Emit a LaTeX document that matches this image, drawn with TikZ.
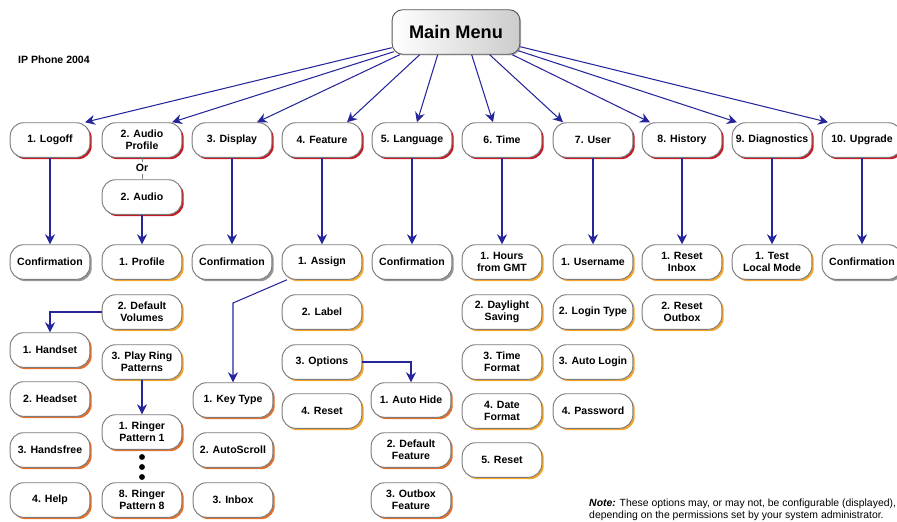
\documentclass[tikz,border=0pt]{standalone}
\usepackage{fontspec}
\setmainfont{Liberation Sans}
\usetikzlibrary{arrows.meta,shadows}

\definecolor{linkblue}{RGB}{38,38,155}
\definecolor{topshade}{RGB}{200,25,35}
\definecolor{subshade}{RGB}{245,165,40}
\definecolor{leafshade}{RGB}{230,110,45}
\definecolor{confshade}{RGB}{150,150,150}
\definecolor{boxedge}{RGB}{125,125,125}

\tikzset{
	menubox/.style={draw=boxedge, line width=0.8pt, fill=white, rounded corners=11.5pt, minimum width=68pt, minimum height=29.5pt, inner sep=1pt, align=center, font=\bfseries\fontsize{9}{10.4}\selectfont},
	topbox/.style={menubox, drop shadow={shadow xshift=1.6pt, shadow yshift=-1.6pt, opacity=1, fill=topshade}},
	subbox/.style={menubox, drop shadow={shadow xshift=1.6pt, shadow yshift=-1.6pt, opacity=1, fill=subshade}},
	leafbox/.style={menubox, drop shadow={shadow xshift=1.6pt, shadow yshift=-1.6pt, opacity=1, fill=leafshade}},
	confbox/.style={menubox, drop shadow={shadow xshift=1.6pt, shadow yshift=-1.6pt, opacity=1, fill=confshade}},
	mainbox/.style={draw=gray!70!black, line width=0.8pt, left color=white, right color=gray!40, rounded corners=9pt, minimum width=109pt, minimum height=38pt, font=\bfseries\fontsize{15.5}{18}\selectfont, drop shadow={shadow xshift=1pt, shadow yshift=-1pt, opacity=1, fill=gray!55}},
	link/.style={draw=linkblue, line width=0.9pt, -{Stealth[length=8.5pt,width=8.5pt]}},
	orline/.style={draw=gray, line width=0.6pt},
	dot/.style={circle, fill=black, inner sep=0pt, minimum size=5pt},
}

\begin{document}
\begin{tikzpicture}[x=0.03cm, y=-0.03cm]
	\useasboundingbox (0,0) rectangle (897,521);
	\node[mainbox] (main) at (456,32) {Main Menu};
	\node[anchor=west, inner sep=0pt, font=\bfseries\fontsize{9}{11}\selectfont] (model) at (18,60) {IP Phone 2004};

	\node[topbox] (logoff)at(50,140) {1. Logoff};
	\node[topbox] (audiop)at(142,140) {2. Audio\\Profile};
	\node[topbox] (display)at(232,140) {3. Display};
	\node[topbox] (feature)at(322,140) {4. Feature};
	\node[topbox] (language)at(412,140) {5. Language};
	\node[topbox] (time)at(502,140) {6. Time};
	\node[topbox] (user)at(593,140) {7. User};
	\node[topbox] (history)at(682,140) {8. History};
	\node[topbox] (diag)at(772,140) {9. Diagnostics};
	\node[topbox] (upgrade)at(862,140) {10. Upgrade};

	\node[font=\bfseries\fontsize{9}{10}\selectfont, inner sep=1.5pt] (or)at(142,168) {Or};
	\node[topbox] (audio)at(142,197) {2. Audio};

	\node[confbox] (logoffconf)at(50,262) {Confirmation};
	\node[subbox] (profile)at(142,262) {1. Profile};
	\node[confbox] (displayconf)at(232,262) {Confirmation};
	\node[subbox] (assign)at(322,262) {1. Assign};
	\node[confbox] (langconf)at(412,262) {Confirmation};
	\node[subbox] (hours)at(502,262) {1. Hours\\from GMT};
	\node[subbox] (username)at(593,262) {1. Username};
	\node[subbox] (resetin)at(682,262) {1. Reset\\Inbox};
	\node[subbox] (testlocal)at(772,262) {1. Test\\Local Mode};
	\node[confbox] (upgradeconf)at(862,262) {Confirmation};

	\node[subbox] (defvol)at(142,312) {2. Default\\Volumes};
	\node[subbox] (playring)at(142,362) {3. Play Ring\\Patterns};
	\node[leafbox] (ringa)at(142,432) {1. Ringer\\Pattern 1};
	\node[dot] (dota)at(142,457) {};
	\node[dot] (dotb)at(142,467) {};
	\node[dot] (dotc)at(142,477) {};
	\node[leafbox] (ringh)at(142,500) {8. Ringer\\Pattern 8};

	\node[leafbox] (handset)at(50,350) {1. Handset};
	\node[leafbox] (headset)at(50,399) {2. Headset};
	\node[leafbox] (handsfree)at(50,450) {3. Handsfree};
	\node[leafbox] (help)at(50,500) {4. Help};

	\node[subbox] (label)at(322,312) {2. Label};
	\node[subbox] (options)at(322,362) {3. Options};
	\node[subbox] (freset)at(322,411) {4. Reset};
	\node[leafbox] (keytype)at(233,400) {1. Key Type};
	\node[leafbox] (autoscroll)at(233,450) {2. AutoScroll};
	\node[leafbox] (inbox)at(233,500) {3. Inbox};
	\node[leafbox] (autohide)at(411,400) {1. Auto Hide};
	\node[leafbox] (deffeat)at(411,450) {2. Default\\Feature};
	\node[leafbox] (outfeat)at(411,500) {3. Outbox\\Feature};

	\node[subbox] (daylight)at(502,312) {2. Daylight\\Saving};
	\node[subbox] (timefmt)at(502,362) {3. Time\\Format};
	\node[subbox] (datefmt)at(502,411) {4. Date\\Format};
	\node[subbox] (treset)at(502,460) {5. Reset};

	\node[subbox] (login)at(593,312) {2. Login Type};
	\node[subbox] (autologin)at(593,362) {3. Auto Login};
	\node[subbox] (password)at(593,411) {4. Password};

	\node[subbox] (resetout)at(682,312) {2. Reset\\Outbox};

	\node[anchor=north west, inner sep=0pt, align=left, font=\fontsize{8.9}{9.8}\selectfont] (note)at(589,499) {\textbf{\textit{Note:}} These options may, or may not, be configurable (displayed),\\depending on the permissions set by your system administrator.};

	\draw[link] ([shift={(0,-7)}]main.south west) -- ([shift={(35,0)}]logoff.north);
	\draw[link] ([shift={(2,-3)}]main.south west) -- ([shift={(30,0)}]audiop.north);
	\draw[link] ([shift={(8,0)}]main.south west) -- ([shift={(25,0)}]display.north);
	\draw[link] ([shift={(28,0)}]main.south west) -- ([shift={(25,0)}]feature.north);
	\draw[link] ([shift={(46,0)}]main.south west) -- ([shift={(5,0)}]language.north);
	\draw[link] ([shift={(80,0)}]main.south west) -- ([shift={(-9,0)}]time.north);
	\draw[link] ([shift={(98,0)}]main.south west) -- ([shift={(-30,0)}]user.north);
	\draw[link] ([shift={(-8,0)}]main.south east) -- ([shift={(-32,0)}]history.north);
	\draw[link] ([shift={(-2,-4)}]main.south east) -- ([shift={(-35,0)}]diag.north);
	\draw[link] ([shift={(0,-8)}]main.south east) -- ([shift={(-34,0)}]upgrade.north);

	\draw[orline] (audiop) -- (or);
	\draw[orline] (or) -- (audio);

	\draw[link] (logoff) -- (logoffconf);
	\draw[link] (audio) -- (profile);
	\draw[link] (display) -- (displayconf);
	\draw[link] (feature) -- (assign);
	\draw[link] (language) -- (langconf);
	\draw[link] (time) -- (hours);
	\draw[link] (user) -- (username);
	\draw[link] (history) -- (resetin);
	\draw[link] (diag) -- (testlocal);
	\draw[link] (upgrade) -- (upgradeconf);

	\draw[link] (defvol.west) -| (handset.north);
	\draw[link] (playring) -- (ringa);
	\coordinate (kbend) at (233,303);
	\draw[link] ([shift={(-35,0)}]assign.south) -- (kbend) -- (keytype.north);
	\draw[link] (options.east) -| (autohide.north);
\end{tikzpicture}
\end{document}
